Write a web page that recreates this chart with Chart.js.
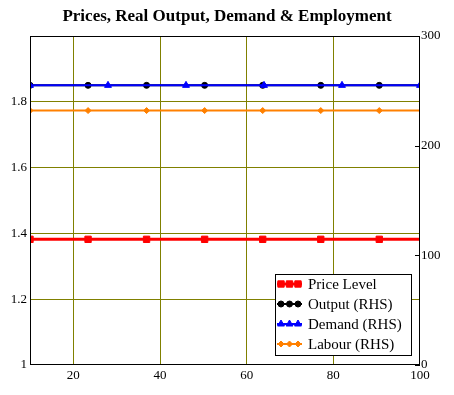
<!DOCTYPE html>
<html><head><meta charset="utf-8">
<script src="https://cdn.jsdelivr.net/npm/chart.js@4/dist/chart.umd.min.js"></script>
<style>html,body{margin:0;padding:0;background:#fff;}canvas{display:block;}</style>
</head><body>
<canvas id="c" width="454" height="395"></canvas>
<script>
// ---- data ----
const titleText = 'Prices, Real Output, Demand & Employment';
const seriesNames = ['Price Level', 'Output (RHS)', 'Demand (RHS)', 'Labour (RHS)'];
const xMarks   = [10, 23.4, 36.9, 50.3, 63.7, 77.1, 90.6, 100];
const markOn   = [1, 1, 1, 1, 1, 1, 1, 0];
const xDemand  = [10, 28, 46, 64, 82, 100];
const priceLevel = [1.382, 1.382, 1.382, 1.382, 1.382, 1.382, 1.382, 1.382];
const output     = [255, 255, 255, 255, 255, 255, 255, 255];
const demand     = [255, 255, 255, 255, 255, 255];
const labour     = [232, 232, 232, 232, 232, 232, 232, 232];
const xTicks  = [20, 40, 60, 80, 100];
const yTicks  = [1, 1.2, 1.4, 1.6, 1.8];
const yTickLabels = ['1', '1.2', '1.4', '1.6', '1.8'];
const y2Ticks = [0, 100, 200, 300];

const OLIVE = '#808000';
const tickFont = {family: 'Liberation Serif', size: 13};

function pts(xs, ys) { return xs.map((x, i) => ({x: x, y: ys[i]})); }

const frame = {
  id: 'frame',
  afterDatasetsDraw(chart) {
    const ctx = chart.ctx, a = chart.chartArea;
    ctx.save();
    ctx.strokeStyle = '#000';
    ctx.lineWidth = 1;
    ctx.strokeRect(a.left + 0.5, a.top + 0.5, a.right - a.left - 1, a.bottom - a.top - 1);
    const s = chart.scales.y2;
    ctx.beginPath();
    s.ticks.forEach(t => {
      const y = Math.round(s.getPixelForValue(t.value)) + 0.5;
      ctx.moveTo(a.right - 5, y);
      ctx.lineTo(a.right, y);
    });
    ctx.stroke();
    ctx.restore();
  },
  afterDraw(chart) {
    const ctx = chart.ctx, a = chart.chartArea;
    const bx = a.right - 145, by = a.bottom - 91, bw = 136, bh = 81;
    ctx.save();
    ctx.fillStyle = '#fff';
    ctx.fillRect(bx, by, bw, bh);
    ctx.strokeStyle = '#000';
    ctx.lineWidth = 1;
    ctx.strokeRect(bx + 0.5, by + 0.5, bw, bh);
    const order = [0, 1, 2, 3];
    order.forEach((di, row) => {
      const ds = chart.data.datasets[di];
      const y = by + 10 + row * 20;
      ctx.strokeStyle = ds.borderColor;
      ctx.lineWidth = ds.borderWidth;
      ctx.beginPath();
      ctx.moveTo(bx + 2, y);
      ctx.lineTo(bx + 27, y);
      ctx.stroke();
      [bx + 6, bx + 14.5, bx + 23].forEach(px => {
        ctx.fillStyle = ds.backgroundColor;
        ctx.strokeStyle = ds.borderColor;
        ctx.lineWidth = 1;
        Chart.helpers.drawPoint(ctx, {pointStyle: ds.pointStyle, radius: ds.legendRadius, borderWidth: 1, rotation: 0}, px, y);
      });
      ctx.fillStyle = '#000';
      ctx.font = '15px "Liberation Serif"';
      ctx.textBaseline = 'middle';
      ctx.textAlign = 'left';
      ctx.fillText(seriesNames[di], bx + 33, y + 1);
    });
    ctx.restore();
  }
};

new Chart(document.getElementById('c'), {
  type: 'line',
  data: {
    datasets: [
      {label: seriesNames[0], data: pts(xMarks, priceLevel), yAxisID: 'y',
       borderColor: '#ff0000', backgroundColor: '#ff0000', borderWidth: 3,
       pointStyle: 'rect', pointRadius: markOn.map(m => m ? 4.5 : 0), pointBorderWidth: 1,
       legendRadius: 4.5, order: 0, clip: 0},
      {label: seriesNames[1], data: pts(xMarks, output), yAxisID: 'y2',
       borderColor: '#000000', backgroundColor: '#000000', borderWidth: 2,
       pointStyle: 'circle', pointRadius: markOn.map(m => m ? 3 : 0), pointBorderWidth: 1,
       legendRadius: 3, order: 2, clip: 0},
      {label: seriesNames[2], data: pts(xDemand, demand), yAxisID: 'y2',
       borderColor: '#0000ff', backgroundColor: '#0000ff', borderWidth: 2,
       pointStyle: 'triangle', pointRadius: 4, pointBorderWidth: 1,
       legendRadius: 4, order: 1, clip: 0},
      {label: seriesNames[3], data: pts(xMarks, labour), yAxisID: 'y2',
       borderColor: '#ff8000', backgroundColor: '#ff8000', borderWidth: 2,
       pointStyle: 'rectRot', pointRadius: markOn.map(m => m ? 3 : 0), pointBorderWidth: 1,
       legendRadius: 3, order: 3, clip: 0}
    ]
  },
  options: {
    responsive: false,
    animation: false,
    devicePixelRatio: 1,
    layout: {padding: {left: 0, right: 0, top: 0, bottom: 0}},
    elements: {line: {tension: 0, fill: false}},
    plugins: {
      legend: {display: false},
      tooltip: {enabled: false},
      title: {display: true, text: titleText, color: '#000',
              font: {family: 'Liberation Serif', size: 17, weight: 'bold', lineHeight: 1.2},
              padding: {top: 6, bottom: 9.6}}
    },
    scales: {
      x: {type: 'linear', min: 10, max: 100,
          afterBuildTicks: s => { s.ticks = xTicks.map(v => ({value: v})); },
          afterFit: s => { s.height = 30; },
          border: {display: false},
          grid: {color: c => (c.tick && c.tick.value === 100) ? 'rgba(0,0,0,0)' : OLIVE, drawTicks: false, lineWidth: 1},
          ticks: {font: tickFont, color: '#000', padding: 3, maxRotation: 0, autoSkip: false}},
      y: {type: 'linear', position: 'left', min: 1, max: 2,
          afterBuildTicks: s => { s.ticks = yTicks.map(v => ({value: v})); },
          afterFit: s => { s.width = 30; },
          border: {display: false},
          grid: {color: c => (c.tick && c.tick.value === 1) ? 'rgba(0,0,0,0)' : OLIVE, drawTicks: false, lineWidth: 1},
          ticks: {font: tickFont, color: '#000', padding: 3, autoSkip: false,
                  callback: (v, i) => yTickLabels[i]}},
      y2: {type: 'linear', position: 'right', min: 0, max: 300,
          afterBuildTicks: s => { s.ticks = y2Ticks.map(v => ({value: v})); },
          afterFit: s => { s.width = 34; },
          border: {display: false},
          grid: {drawOnChartArea: false, drawTicks: false},
          ticks: {font: tickFont, color: '#000', padding: 1, autoSkip: false}}
    }
  },
  plugins: [frame]
});
</script>
</body></html>
